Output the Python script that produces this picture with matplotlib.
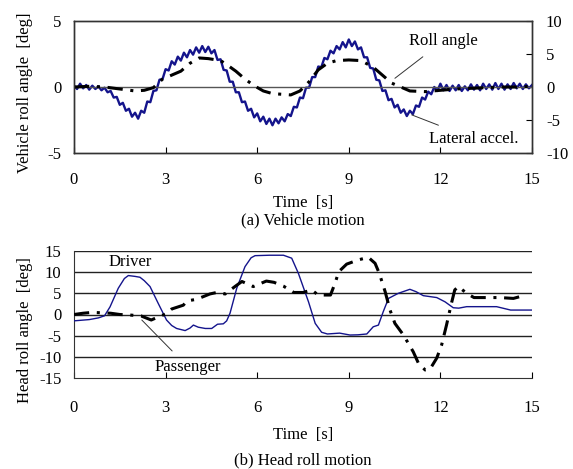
import numpy as np
import matplotlib.pyplot as plt

plt.rcParams['font.family'] = ['Liberation Serif', 'DejaVu Serif']
plt.rcParams['font.size'] = 12
plt.rcParams['axes.unicode_minus'] = False

# ---- (a) vehicle motion ----
t_lat = np.arange(151) * 0.1
lat_accel = [0.2, -0.3, 0.5, -0.2, 0.3, -0.4, 0.2, -0.3, 0.1, -0.5,
             -0.1, -0.8, -0.6, -1.6, -1.5, -2.7, -2.4, -3.6, -3.3, -4.5,
             -3.9, -4.8, -3.6, -3.9, -2.2, -2.3, -0.6, -0.5, 1.1, 1.2,
             2.7, 2.5, 3.9, 3.4, 4.6, 4.0, 5.2, 4.5, 5.6, 4.9,
             6.0, 5.2, 6.2, 5.3, 6.1, 5.1, 5.6, 4.1, 4.2, 2.6,
             2.5, 0.8, 0.8, -0.8, -0.8, -2.3, -2.2, -3.6, -3.3, -4.6,
             -4.0, -5.2, -4.5, -5.6, -4.8, -5.8, -4.8, -5.5, -4.6, -5.2,
             -4.1, -4.4, -3.0, -3.1, -1.6, -1.7, -0.1, -0.1, 1.5, 1.5,
             3.1, 3.0, 4.4, 4.2, 5.5, 5.1, 6.2, 5.7, 6.8, 6.0,
             7.2, 6.2, 6.9, 5.7, 6.0, 4.5, 4.5, 2.9, 2.8, 1.1,
             1.0, -0.6, -0.5, -2.0, -1.8, -3.1, -2.7, -3.9, -3.4, -4.4,
             -3.6, -4.1, -2.8, -3.0, -1.6, -1.9, -0.7, -1.1, 0.0, -0.6,
             0.5, -0.5, 0.3, -0.6, 0.2, -0.5, 0.3, -0.6, 0.1, -0.5,
             0.4, -0.4, 0.3, -0.5, 0.5, -0.3, 0.4, -0.4, 0.6, -0.3,
             0.5, -0.4, 0.4, -0.3, 0.6, -0.2, 0.5, -0.3, 0.4, -0.2,
             0.3]

t_roll = [0, 0.5, 1.0, 1.5, 2.0, 2.3, 2.6, 2.9, 3.2, 3.5, 3.8, 4.1, 4.4, 4.8,
          5.0, 5.3, 5.6, 5.9, 6.2, 6.5, 6.8, 7.1, 7.4, 7.7, 8.0, 8.3, 8.6,
          9.0, 9.4, 9.8, 10.1, 10.4, 10.7, 11.0, 11.5, 12.0, 12.5, 13.0,
          13.5, 14.0, 14.5, 15.0]
roll = [0, 0.05, 0.0, -0.15, -0.3, -0.25, -0.05, 0.6, 0.9, 1.2, 1.8, 2.2,
        2.15, 2.0, 1.7, 1.2, 0.6, 0.1, -0.3, -0.5, -0.55, -0.6, -0.3, 0.4,
        1.3, 1.8, 2.0, 2.05, 2.0, 1.5, 0.9, 0.3, 0.0, -0.3, -0.35, -0.25,
        -0.15, -0.1, -0.05, 0.0, 0.0, 0.05]

# ---- (b) head roll motion ----
t_drv = [0, 0.5, 0.8, 1.0, 1.18, 1.45, 1.65, 1.78, 2.0, 2.16, 2.3, 2.49,
         2.76, 3.03, 3.2, 3.36, 3.64, 3.8, 3.91, 4.07, 4.3, 4.51, 4.7, 4.89,
         5.0, 5.11, 5.33, 5.6, 5.8, 5.93, 6.4, 6.86, 7.13, 7.35, 7.68, 7.9,
         8.11, 8.3, 8.5, 8.7, 9.04, 9.3, 9.59, 9.8, 9.97, 10.13, 10.3,
         10.62, 11.0, 11.2, 11.44, 11.88, 12.15, 12.42, 12.6, 12.86, 13.84,
         14.3, 15.0]
driver = [-1.5, -1.2, -0.8, -0.3, 1.8, 6.2, 8.5, 9.2, 9.0, 8.8, 8.0, 6.6,
          2.6, -1.3, -2.6, -3.3, -3.8, -3.2, -2.5, -3.0, -3.3, -3.3, -2.3,
          -2.2, -1.5, 0.3, 6.2, 11.3, 13.4, 13.9, 14.0, 14.0, 13.3, 9.7, 3.0,
          -2.1, -4.2, -4.6, -4.5, -4.4, -4.85, -4.8, -4.6, -2.9, -2.5, 0.7,
          3.8, 5.0, 5.95, 5.4, 4.45, 4.0, 3.0, 1.6, 1.5, 1.85, 1.85, 1.05,
          1.05]

t_pas = [0, 0.3, 0.6, 0.9, 1.2, 1.5, 1.8, 2.2, 2.53, 2.75, 3.03, 3.2, 3.58,
         3.7, 4.02, 4.45, 4.67, 4.95, 5.27, 5.5, 5.87, 6.3, 6.55, 6.86, 7.2,
         7.5, 7.78, 8.0, 8.4, 8.55, 8.67, 8.93, 9.31, 9.64, 9.86, 10.0,
         10.19, 10.35, 10.51, 10.79, 11.11, 11.28, 11.5, 11.66, 11.88,
         12.04, 12.2, 12.36, 12.47, 12.59, 12.86, 13.1, 13.5, 13.95, 14.39,
         14.72]
passenger = [0, 0.3, 0.5, 0.4, 0.3, 0, -0.1, -0.35, -1.3, -0.6, 0.2, 1.3,
             2.2, 3.2, 3.6, 4.85, 5.2, 4.85, 6.6, 7.8, 6.6, 7.9, 7.6, 6.7,
             5.2, 5.2, 5.8, 4.6, 4.6, 7.4, 10.1, 11.9, 12.9, 13.5, 12.1, 9.7,
             5.4, 1.05, -2.1, -4.85, -8.8, -11.5, -13.1, -12.9, -10.3, -7.2,
             -2.5, 2.6, 5.8, 6.6, 5.0, 4.0, 4.0, 4.0, 3.8, 4.45]

blue = '#14148c'
dashdot = (0, (5, 2.5, 1, 2.5))
xticks = [0, 3, 6, 9, 12, 15]

fig = plt.figure(figsize=(5.73, 4.69), dpi=100)
W, H = 573.0, 469.0

def px(x, y):
    return x / W, 1 - y / H

# top axes
ax1 = fig.add_axes([74 / W, 1 - 153 / H, 458 / W, 132 / H])
ax2 = ax1.twinx()
ax1.set_zorder(ax2.get_zorder() + 1)
ax1.patch.set_visible(False)
ax1.axhline(0, color='#555555', lw=1.0, zorder=1)
ax2.plot(t_lat, lat_accel, color=blue, lw=1.7)
ax1.plot(t_roll, roll, color='black', lw=2.2, linestyle=dashdot)
ax1.set_xlim(0, 15)
ax1.set_ylim(-5, 5)
ax2.set_ylim(-10, 10)
ax1.set_xticks(xticks)
ax1.set_yticks([-5, 0, 5])
ax2.set_yticks([-10, -5, 0, 5, 10])
ax1.tick_params(axis='x', direction='in', length=4, pad=14)
ax1.tick_params(axis='y', length=0, pad=9)
ax2.tick_params(axis='y', direction='in', length=4, pad=10)
for ax in (ax1, ax2):
    for s in ax.spines.values():
        s.set_color('#333333')
        s.set_linewidth(1.0)

ax1.annotate('Roll angle', xy=(10.51, 0.66), xytext=(12.1, 3.49),
             ha='center', va='center',
             arrowprops=dict(arrowstyle='-', color='#333333', lw=0.7,
                             shrinkA=6, shrinkB=0))
ax1.annotate('Lateral accel.', xy=(11.06, -2.11), xytext=(13.1, -3.94),
             ha='center', va='center',
             arrowprops=dict(arrowstyle='-', color='#333333', lw=0.7,
                             shrinkA=6, shrinkB=0))

# bottom axes
ax3 = fig.add_axes([74 / W, 1 - 378 / H, 458 / W, 127 / H])
for g in [-10, -5, 0, 5, 10, 15]:
    ax3.axhline(g, color='#222222', lw=1.0, zorder=1)
ax3.plot(t_drv, driver, color=blue, lw=1.0, zorder=3)
ax3.plot(t_pas, passenger, color='black', lw=2.2, linestyle=dashdot, zorder=3)
ax3.set_xlim(0, 15)
ax3.set_ylim(-15, 15)
ax3.set_xticks(xticks)
ax3.set_yticks([-15, -10, -5, 0, 5, 10, 15])
ax3.tick_params(axis='x', direction='in', length=4, pad=16)
ax3.tick_params(axis='y', length=0, pad=9)
ax3.spines['top'].set_visible(False)
ax3.spines['right'].set_visible(False)
for s in ('left', 'bottom'):
    ax3.spines[s].set_color('#333333')
ax3.text(1.83, 12.47, 'Driver', ha='center', va='center')
ax3.annotate('Passenger', xy=(2.22, -1.3), xytext=(3.72, -12.33),
             ha='center', va='center',
             arrowprops=dict(arrowstyle='-', color='#333333', lw=0.7,
                             shrinkA=5, shrinkB=0))

# labels
fig.text(*px(25, 93), 'Vehicle roll angle  [deg]', rotation=90,
         ha='center', va='center')
fig.text(*px(303, 202.7), 'Time  [s]', ha='center', va='center')
fig.text(*px(303, 220), '(a) Vehicle motion', ha='center', va='center')
fig.text(*px(25, 330), 'Head roll angle  [deg]', rotation=90,
         ha='center', va='center')
fig.text(*px(303, 435), 'Time  [s]', ha='center', va='center')
fig.text(*px(303, 460), '(b) Head roll motion', ha='center', va='center')

fig.savefig('out.png', dpi=100)
